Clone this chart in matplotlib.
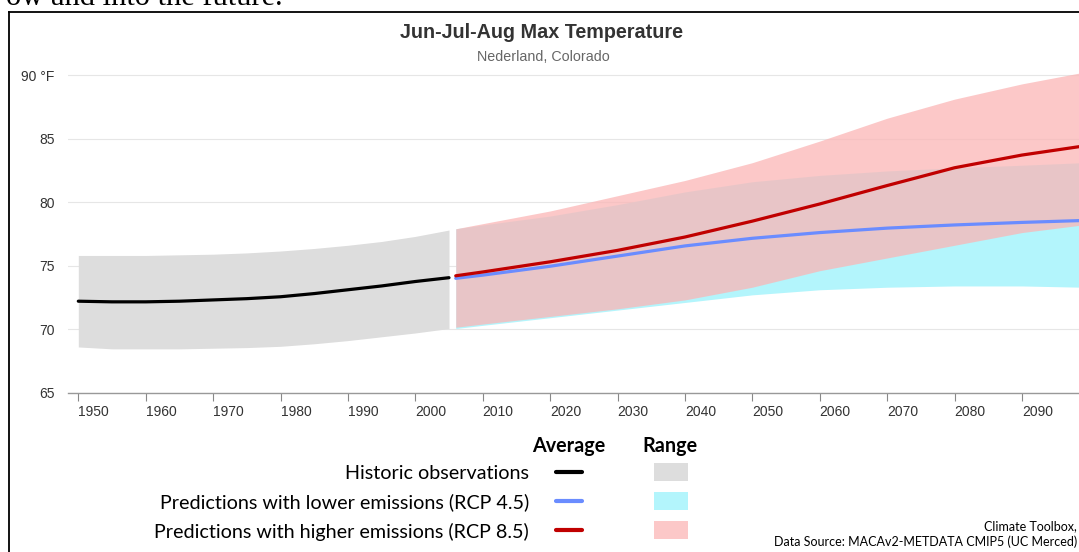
import matplotlib
matplotlib.use("Agg")
import matplotlib.pyplot as plt
from matplotlib.lines import Line2D
from matplotlib.patches import Rectangle

# ---------------- data ----------------
hist_years = [1950, 1955, 1960, 1965, 1970, 1975, 1980, 1985, 1990, 1995, 2000, 2005]
hist_mean = [72.2, 72.15, 72.15, 72.2, 72.3, 72.4, 72.55, 72.8, 73.1, 73.4, 73.75, 74.05]
hist_hi = [75.8, 75.8, 75.8, 75.85, 75.9, 76.0, 76.15, 76.35, 76.6, 76.9, 77.3, 77.8]
hist_lo = [68.6, 68.45, 68.45, 68.45, 68.5, 68.55, 68.65, 68.85, 69.1, 69.4, 69.7, 70.05]

fut_years = [2006, 2010, 2020, 2030, 2040, 2050, 2060, 2070, 2080, 2090, 2099]
rcp85_mean = [74.2, 74.5, 75.3, 76.2, 77.25, 78.5, 79.85, 81.3, 82.7, 83.7, 84.4]
rcp45_mean = [74.0, 74.25, 74.95, 75.75, 76.55, 77.15, 77.6, 77.95, 78.2, 78.4, 78.55]
rcp85_hi = [77.9, 78.3, 79.3, 80.5, 81.7, 83.1, 84.8, 86.6, 88.1, 89.3, 90.2]
rcp85_lo = [70.15, 70.4, 71.0, 71.6, 72.3, 73.3, 74.6, 75.6, 76.6, 77.6, 78.2]
rcp45_hi = [77.9, 78.2, 78.9, 79.8, 80.8, 81.6, 82.1, 82.45, 82.7, 82.9, 83.1]
rcp45_lo = [70.05, 70.3, 70.9, 71.5, 72.1, 72.7, 73.1, 73.3, 73.4, 73.4, 73.3]

x_ticks = [1950, 1960, 1970, 1980, 1990, 2000, 2010, 2020, 2030, 2040, 2050, 2060, 2070, 2080, 2090]
y_ticks = [65, 70, 75, 80, 85, 90]
y_labels = ["65", "70", "75", "80", "85", "90 °F"]

title = "Jun-Jul-Aug Max Temperature"
subtitle = "Nederland, Colorado"
legend_labels = ["Historic observations",
                 "Predictions with lower emissions (RCP 4.5)",
                 "Predictions with higher emissions (RCP 8.5)"]

# ---------------- colours ----------------
C_BLACK = "#000000"
C_BLUE = "#6a8cff"
C_RED = "#c00000"
C_GREY = "#dddddd"
C_CYAN = "#b3f5fc"
C_PINK = "#fbb6b6"
PINK_ALPHA = 0.75

W, H = 1079, 552
fig = plt.figure(figsize=(W / 100, H / 100), dpi=100)

def fx(px):
    return px / W

def fy(py):
    return 1 - py / H

# axes geometry (pixels)
left_px, bottom_px = 68, 392.7
y_per_deg = 12.7
ymax = 90.5
top_px = 75 - (ymax - 90) * y_per_deg
ax = fig.add_axes([fx(left_px), fy(bottom_px), 1 - fx(left_px), (bottom_px - top_px) / H])

px_per_year = 6.74
x0 = 1950 - (78.3 - left_px) / px_per_year
x1 = 1950 + (W - 78.3) / px_per_year
ax.set_xlim(x0, x1)
ax.set_ylim(65, ymax)

# ranges
ax.fill_between(hist_years, hist_lo, hist_hi, color=C_GREY, lw=0, zorder=2)
ax.fill_between(fut_years, rcp45_lo, rcp45_hi, color=C_CYAN, lw=0, zorder=2)
ax.fill_between(fut_years, rcp85_lo, rcp85_hi, color=C_PINK, alpha=PINK_ALPHA, lw=0, zorder=3)

# means
ax.plot(hist_years, hist_mean, color=C_BLACK, lw=2.3, solid_capstyle="round", zorder=5)
ax.plot(fut_years, rcp45_mean, color=C_BLUE, lw=2.3, solid_capstyle="round", zorder=5)
ax.plot(fut_years, rcp85_mean, color=C_RED, lw=2.3, solid_capstyle="round", zorder=6)

# axes styling
for s in ["top", "right", "left"]:
    ax.spines[s].set_visible(False)
ax.spines["bottom"].set_color("#999999")
ax.spines["bottom"].set_linewidth(1.0)
ax.set_yticks(y_ticks)
ax.set_yticklabels(y_labels)
ax.set_xticks(x_ticks)
ax.set_xticklabels([str(t) for t in x_ticks])
ax.tick_params(axis="y", length=0, pad=9.5, labelsize=10, labelcolor="#333333")
ax.tick_params(axis="x", length=5.5, width=0.8, color="#888888", pad=3.5,
               labelsize=10, labelcolor="#333333")
for lab in ax.get_xticklabels():
    lab.set_horizontalalignment("left")
for lab in ax.get_yticklabels() + ax.get_xticklabels():
    lab.set_fontfamily("Liberation Sans")
ax.grid(axis="y", color="#e6e6e6", lw=0.8, zorder=0)
ax.set_axisbelow(True)

# titles
fig.text(fx(542), fy(32), title, ha="center", va="center", fontsize=14.2,
         fontweight="bold", color="#333333", family="Liberation Sans")
fig.text(fx(543), fy(57), subtitle, ha="center", va="center", fontsize=10.3,
         color="#666666", family="Liberation Sans")

# legend
LEG_FONT = "Lato"
fig.text(fx(569), fy(446), "Average", ha="center", va="center", fontsize=14.2,
         fontweight="bold", family=LEG_FONT, color="black")
fig.text(fx(670), fy(446), "Range", ha="center", va="center", fontsize=14.2,
         fontweight="bold", family=LEG_FONT, color="black")
rows_y = [472, 501, 530]
line_cols = [C_BLACK, C_BLUE, C_RED]
sw_cols = [(C_GREY, 1.0), (C_CYAN, 1.0), (C_PINK, PINK_ALPHA)]
for lab, ry, lc, (sc, sa) in zip(legend_labels, rows_y, line_cols, sw_cols):
    fig.text(fx(529), fy(ry + 1.5), lab, ha="right", va="center", fontsize=14.2,
             family=LEG_FONT, color="black")
    fig.add_artist(Line2D([fx(556), fx(582)], [fy(ry), fy(ry)], color=lc, lw=3,
                          solid_capstyle="round", transform=fig.transFigure))
    fig.add_artist(Rectangle((fx(654), fy(ry + 9)), fx(688) - fx(654), 18 / H,
                             facecolor=sc, alpha=sa, edgecolor="none",
                             transform=fig.transFigure))

# footer
fig.text(fx(1077), fy(526), "Climate Toolbox,", ha="right", va="center",
         fontsize=9.0, family=LEG_FONT, color="black")
fig.text(fx(1077), fy(542), "Data Source: MACAv2-METDATA CMIP5 (UC Merced)",
         ha="right", va="center", fontsize=9.0, family=LEG_FONT, color="black")

# surrounding document elements
fig.text(fx(283), fy(5), "ow and into the future.", ha="right", va="baseline",
         fontsize=22, family="Liberation Serif", color="black")
fig.add_artist(Line2D([fx(9), fx(9)], [fy(12), fy(H + 2)], color="black", lw=1.3,
                      transform=fig.transFigure))
fig.add_artist(Line2D([fx(9), fx(W + 2)], [fy(12), fy(12)], color="black", lw=1.3,
                      transform=fig.transFigure))

fig.savefig("out.png", dpi=100)
